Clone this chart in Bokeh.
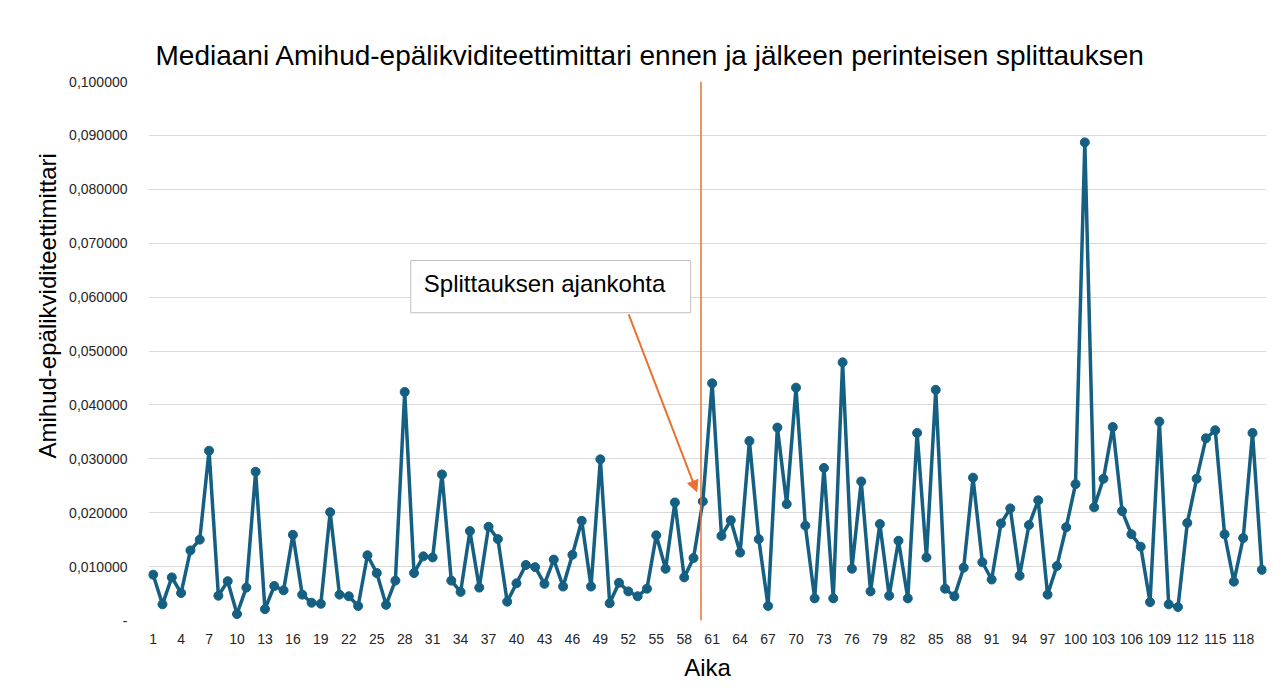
from bokeh.plotting import figure
from bokeh.models import (FixedTicker, CustomJSTickFormatter, Span, Arrow, NormalHead,
                          BoxAnnotation, Label, Range1d, ColumnDataSource, Title)
from bokeh.embed import file_html
from bokeh.resources import INLINE

title_text = "Mediaani Amihud-epälikviditeettimittari ennen ja jälkeen perinteisen splittauksen"
x_label = "Aika"
y_label = "Amihud-epälikviditeettimittari"
note_text = "Splittauksen ajankohta"

periods = list(range(1, 121))
amihud = [
    0.0085, 0.0030, 0.0080, 0.0051, 0.0130, 0.0150, 0.0315, 0.0046, 0.0073, 0.0012,
    0.0061, 0.0276, 0.0021, 0.0064, 0.0056, 0.0159, 0.0048, 0.0033, 0.0031, 0.0201,
    0.0048, 0.0045, 0.0027, 0.0121, 0.0088, 0.0029, 0.0074, 0.0424, 0.0088, 0.0119,
    0.0117, 0.0271, 0.0074, 0.0053, 0.0166, 0.0061, 0.0174, 0.0151, 0.0035, 0.0069,
    0.0103, 0.0099, 0.0068, 0.0113, 0.0063, 0.0122, 0.0185, 0.0063, 0.0299, 0.0032,
    0.0070, 0.0054, 0.0045, 0.0059, 0.0158, 0.0096, 0.0219, 0.0080, 0.0116, 0.0221,
    0.0440, 0.0157, 0.0186, 0.0126, 0.0333, 0.0151, 0.0027, 0.0358, 0.0216, 0.0432,
    0.0176, 0.0041, 0.0283, 0.0041, 0.0479, 0.0096, 0.0258, 0.0054, 0.0179, 0.0046,
    0.0148, 0.0041, 0.0348, 0.0117, 0.0428, 0.0059, 0.0045, 0.0098, 0.0265, 0.0108,
    0.0076, 0.0180, 0.0208, 0.0083, 0.0177, 0.0223, 0.0048, 0.0101, 0.0173, 0.0253,
    0.0887, 0.0210, 0.0263, 0.0359, 0.0203, 0.0160, 0.0137, 0.0034, 0.0369, 0.0030,
    0.0025, 0.0181, 0.0263, 0.0338, 0.0353, 0.0160, 0.0072, 0.0153, 0.0348, 0.0094,
]
x_ticks = list(range(1, 121, 3))
y_ticks = [0.0, 0.01, 0.02, 0.03, 0.04, 0.05, 0.06, 0.07, 0.08, 0.09, 0.1]

split_at = 59.8

FONT = "Liberation Sans"
LINE = "#156082"
ORANGE = "#E97132"

p = figure(frame_width=1118, frame_height=539,
           min_border_left=148, min_border_right=6, min_border_top=81, min_border_bottom=66,
           x_range=Range1d(0.5, 120.5), y_range=Range1d(0, 0.1),
           output_backend="svg", toolbar_location=None, title=title_text)

p.title.text_font = FONT
p.title.text_font_size = "28px"
p.title.text_font_style = "normal"
p.title.text_color = "#000000"
p.title.align = "left"
p.title.offset = 7
p.title.standoff = 22

p.outline_line_color = None
p.background_fill_color = "white"
p.border_fill_color = "white"

p.xgrid.grid_line_color = None
p.ygrid.grid_line_color = "#d9d9d9"
p.ygrid.grid_line_width = 1

p.xaxis.ticker = FixedTicker(ticks=x_ticks)
p.yaxis.ticker = FixedTicker(ticks=y_ticks)
p.ygrid.ticker = FixedTicker(ticks=y_ticks)
p.yaxis.formatter = CustomJSTickFormatter(code="""
    if (Math.abs(tick) < 1e-12) { return "-"; }
    return tick.toFixed(6).replace(".", ",");
""")

for ax in (p.xaxis, p.yaxis):
    ax.axis_line_color = None
    ax.major_tick_line_color = None
    ax.minor_tick_line_color = None
    ax.major_label_text_font = FONT
    ax.major_label_text_font_size = "14px"
    ax.major_label_text_color = "#262626"
    ax.axis_label_text_font = FONT
    ax.axis_label_text_font_style = "normal"
    ax.axis_label_text_color = "#000000"

p.xaxis.axis_label = x_label
p.xaxis.axis_label_text_font_size = "24px"
p.xaxis.major_label_standoff = 7
p.xaxis.axis_label_standoff = 7

p.yaxis.major_label_standoff = 15

# y-axis title as a side title, positioned along the axis like the reference
ytitle = Title(text=y_label, align="left", offset=162, standoff=11,
               text_font=FONT, text_font_size="24px", text_font_style="normal",
               text_color="#000000")
p.add_layout(ytitle, "left")

src = ColumnDataSource(dict(x=periods, y=amihud))
p.line("x", "y", source=src, line_color=LINE, line_width=3.5, line_join="round")
p.scatter("x", "y", source=src, size=9, fill_color=LINE, line_color=LINE)

p.add_layout(Span(location=split_at, dimension="height", line_color=ORANGE, line_width=1.5))

p.add_layout(BoxAnnotation(left=28.65, right=58.69, top=0.0668, bottom=0.0571,
                           fill_color="white", fill_alpha=1.0,
                           line_color="#bfbfbf", line_width=1, line_alpha=1.0))
p.add_layout(Label(x=30.05, y=0.0625, text=note_text, text_font=FONT,
                   text_font_size="24px", text_baseline="middle", text_color="#000000"))

p.add_layout(Arrow(x_start=52.04, y_start=0.0568, x_end=59.34, y_end=0.0239,
                   line_color=ORANGE, line_width=2,
                   end=NormalHead(size=11, fill_color=ORANGE, line_color=ORANGE)))

open("out.html", "w").write(file_html(p, INLINE))
